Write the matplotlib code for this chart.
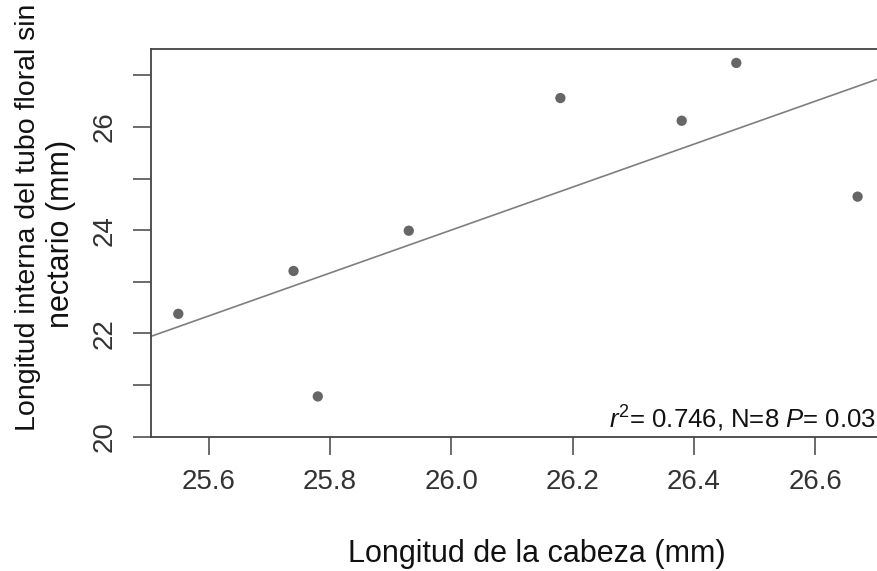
import matplotlib
matplotlib.use("Agg")
import matplotlib.pyplot as plt
import numpy as np

# Data
head_length = [25.55, 25.74, 25.78, 25.93, 26.18, 26.38, 26.47, 26.67]
tube_length = [22.38, 23.21, 20.78, 23.99, 26.56, 26.12, 27.24, 24.65]
x_ticks = [25.6, 25.8, 26.0, 26.2, 26.4, 26.6]
y_ticks = [20, 21, 22, 23, 24, 25, 26, 27]
y_ticklabels = ["20", "", "22", "", "24", "", "26", ""]
x_label = "Longitud de la cabeza (mm)"
y_label_1 = "Longitud interna del tubo floral sin"
y_label_2 = "nectario (mm)"
annotation = r"$\mathit{r}^{2}$= 0.746, N=8 $\mathit{P}$= 0.03"

plt.rcParams['font.family'] = ['Liberation Sans', 'DejaVu Sans']
plt.rcParams['mathtext.fontset'] = 'custom'
plt.rcParams['mathtext.rm'] = 'Liberation Sans'
plt.rcParams['mathtext.it'] = 'Liberation Sans:italic'

W, H = 877, 571
fig = plt.figure(figsize=(W/100, H/100), dpi=100)
ax_left, ax_bottom, ax_top = 151, 436.7, 49
ax = fig.add_axes([ax_left/W, 1-ax_bottom/H, 1-ax_left/W, (ax_bottom-ax_top)/H])

x = np.array(head_length)
y = np.array(tube_length)
xmin, xmax = 25.505, 26.702
ymin, ymax = 20.0, 27.51

slope, intercept = np.polyfit(x, y, 1)
xl = np.array([xmin, xmax])
ax.plot(xl, slope*xl + intercept, color='#7f7f7f', lw=1.2, zorder=2)
ax.scatter(x, y, s=55, color='#666666', edgecolors='none', zorder=3)

ax.set_xlim(xmin, xmax)
ax.set_ylim(ymin, ymax)
ax.set_xticks(x_ticks)
ax.set_xticklabels([f"{v:.1f}" for v in x_ticks])
ax.set_yticks(y_ticks)
ax.set_yticklabels(y_ticklabels, rotation=90, va='center')

for s in ['left', 'bottom', 'top']:
    ax.spines[s].set_color('#444444')
    ax.spines[s].set_linewidth(1.3)
ax.spines['right'].set_visible(False)

ax.tick_params(axis='both', direction='out', length=13, width=1.1, color='#444444',
               labelsize=20, labelcolor='#333333')
ax.tick_params(axis='x', pad=10)
ax.tick_params(axis='y', pad=11)

aw = W - ax_left
ah = ax_bottom - ax_top
def ax_frac(px, py):
    return (px - ax_left) / aw, (ax_bottom - py) / ah

ax.set_xlabel(x_label, fontsize=22, color='#111111', va='baseline')
ax.xaxis.set_label_coords(*ax_frac(537, 562))

ax.set_ylabel(y_label_1, fontsize=20.5, color='#111111', va='center', ha='center')
ax.yaxis.set_label_coords(*ax_frac(28, 217))
ax.text(*ax_frac(61, 234), y_label_2, transform=ax.transAxes, rotation=90,
        fontsize=22, color='#111111', va='center', ha='center')

fig.text(0.999, 1-428/H, annotation, ha='right', va='baseline',
         fontsize=18.5, color='#111111')

fig.savefig("out.png", dpi=100)
